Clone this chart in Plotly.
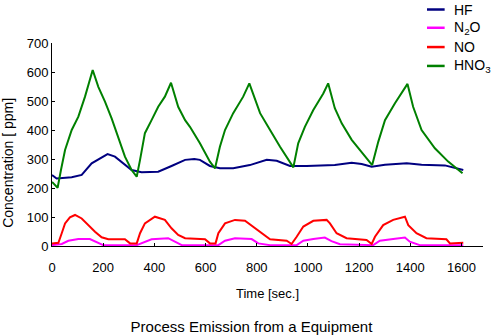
import plotly.graph_objects as go

# Measured concentrations [ppm] over time [sec.]
hf_t = [0, 18, 77, 116, 155, 188, 217, 246, 285, 311, 350, 415, 467, 520, 556, 578, 617, 656,
        708, 773, 839, 878, 930, 995, 1105, 1171, 1210, 1249, 1301, 1386, 1444, 1535, 1607]
hf_v = [245, 233, 237, 245, 285, 302, 317, 308, 279, 262, 254, 256, 276, 297, 300, 297, 276, 268,
        268, 279, 297, 294, 276, 276, 279, 287, 283, 273, 280, 285, 280, 278, 262]

n2o_t = [0, 38, 64, 103, 148, 168, 200, 331, 363, 389, 454, 480, 507, 650, 676, 715, 780, 806,
         852, 956, 982, 1021, 1066, 1092, 1125, 1255, 1281, 1333, 1379, 1398, 1437, 1607]
n2o_v = [3, 7, 18, 24, 24, 15, 3, 3, 15, 23, 27, 15, 3, 3, 18, 27, 24, 9,
         3, 3, 18, 24, 29, 17, 6, 3, 18, 24, 29, 15, 3, 3]

no_t = [0, 25, 38, 51, 70, 90, 116, 142, 168, 194, 220, 285, 305, 331, 344, 363, 402, 441, 467,
        493, 520, 598, 617, 639, 650, 676, 715, 754, 793, 832, 852, 917, 936, 956, 982, 1021,
        1073, 1086, 1112, 1151, 1229, 1249, 1262, 1294, 1333, 1379, 1392, 1424, 1463, 1541,
        1555, 1607]
no_v = [9, 11, 44, 78, 99, 107, 95, 72, 49, 30, 23, 23, 9, 9, 44, 78, 101, 90, 61,
        38, 27, 23, 9, 9, 44, 78, 90, 87, 61, 38, 23, 18, 7, 32, 67, 87,
        90, 78, 44, 27, 21, 7, 32, 72, 90, 101, 72, 44, 27, 23,
        9, 11]

hno3_t = [0, 22, 35, 51, 77, 103, 129, 155, 159, 181, 207, 233, 259, 285, 311, 331, 344, 363,
          389, 415, 441, 465, 493, 520, 539, 578, 617, 637, 656, 676, 708, 747, 771, 813, 852,
          891, 943, 962, 988, 1021, 1060, 1079, 1105, 1132, 1171, 1210, 1251, 1275, 1301, 1340,
          1372, 1389, 1411, 1444, 1496, 1548, 1604]
hno3_v = [221, 201, 262, 331, 400, 446, 515, 601, 607, 549, 498, 440, 371, 308, 262, 239, 297, 389,
          434, 480, 515, 563, 480, 434, 411, 354, 291, 268, 342, 400, 458, 515, 561, 458, 400,
          342, 271, 354, 411, 469, 526, 561, 475, 423, 366, 325, 279, 360, 434, 492,
          538, 559, 480, 400, 337, 291, 251]

series_names = ["HF", "N<sub>2</sub>O", "NO", "HNO<sub>3</sub>"]
series_colors = ["#000080", "#ff00ff", "#ff0000", "#008000"]
series_data = [(hf_t, hf_v), (n2o_t, n2o_v), (no_t, no_v), (hno3_t, hno3_v)]

x_ticks = list(range(0, 1601, 200))
y_ticks = list(range(0, 701, 100))

FONT = "Liberation Sans, Arial, sans-serif"

fig = go.Figure()
for name, color, (t, v) in zip(series_names, series_colors, series_data):
    fig.add_trace(go.Scatter(x=t, y=v, mode="lines", name=name,
                             line=dict(color=color, width=2), showlegend=False))

# Legend drawn as short line samples with labels to the right
legend_y = [1.165, 1.075, 0.980, 0.887]
for name, color, ly in zip(series_names, series_colors, legend_y):
    fig.add_shape(type="line", xref="paper", yref="paper",
                  x0=0.870, x1=0.911, y0=ly, y1=ly,
                  line=dict(color=color, width=2.5))
    fig.add_annotation(xref="paper", yref="paper", x=0.927, y=ly, text=name,
                       showarrow=False, xanchor="left", yanchor="middle",
                       font=dict(family=FONT, size=14, color="black"))

fig.add_annotation(xref="paper", yref="paper", x=-0.102, y=0.41,
                   text="Concentration [ ppm]", textangle=-90, showarrow=False,
                   xanchor="center", yanchor="middle",
                   font=dict(family=FONT, size=14, color="black"))

axis_common = dict(showline=True, linecolor="black", linewidth=1, ticks="inside",
                   ticklen=3, tickcolor="black", showgrid=False, zeroline=False,
                   tickfont=dict(family=FONT, size=13, color="black"))

fig.update_layout(
    width=503, height=336, autosize=False,
    margin=dict(l=52, r=20, t=43, b=90),
    paper_bgcolor="white", plot_bgcolor="white",
    title=dict(text="Process Emission from a Equipment", x=0.5, xanchor="center",
               xref="container", yref="container", y=0.027, yanchor="middle",
               font=dict(family=FONT, size=15, color="black")),
    xaxis=dict(range=[0, 1684], tickvals=x_ticks, ticklabelstandoff=9,
               title=dict(text="Time [sec.]", standoff=15,
                          font=dict(family=FONT, size=13, color="black")),
               **axis_common),
    yaxis=dict(range=[0, 700], tickvals=y_ticks, **axis_common),
)

fig.write_html("out.html")
